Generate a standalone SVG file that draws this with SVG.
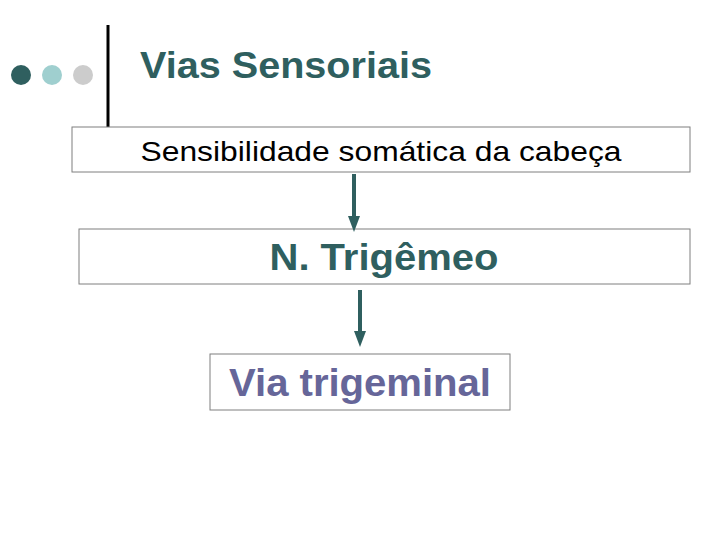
<svg xmlns="http://www.w3.org/2000/svg" width="720" height="540" viewBox="0 0 720 540">
<style>
.box{fill:#fff;stroke:#7f7f7f;stroke-width:1}
.t{font-family:"Liberation Sans",Arial,sans-serif;text-anchor:middle}
.c{stroke:#2f5f5f;stroke-width:4;fill:none}
</style>
<defs><marker id="ah" markerWidth="4" markerHeight="5" refX="1" refY="1.5" orient="auto" markerUnits="strokeWidth" viewBox="0 0 4 3"><path d="M0,0 L4,1.5 L0,3 Z" fill="#2f5f5f"/></marker></defs>
<rect width="720" height="540" fill="#fff"/>
<circle cx="21" cy="75" r="10" fill="#2f5f5f"/>
<circle cx="52" cy="75" r="10" fill="#9fcfcf"/>
<circle cx="83" cy="75" r="10" fill="#cccccc"/>
<line x1="108" y1="25" x2="108" y2="127" stroke="#000" stroke-width="3"/>
<text x="140" y="78" font-family="Liberation Sans,Arial,sans-serif" font-weight="bold" font-size="36" fill="#2f5f5f" textLength="292" lengthAdjust="spacingAndGlyphs">Vias Sensoriais</text>
<g id="n1"><rect class="box" x="72" y="127" width="618" height="45"/><text class="t" x="381" y="161" font-size="28" fill="#000" textLength="481" lengthAdjust="spacingAndGlyphs">Sensibilidade somática da cabeça</text></g>
<g id="n2"><rect class="box" x="79" y="229" width="611" height="55"/><text class="t" x="384" y="270" font-size="37" font-weight="bold" fill="#2f5f5f" textLength="229" lengthAdjust="spacingAndGlyphs">N. Trigêmeo</text></g>
<g id="n3"><rect class="box" x="210" y="354" width="300" height="56"/><text class="t" x="360" y="396" font-size="38" font-weight="bold" fill="#666699" textLength="262" lengthAdjust="spacingAndGlyphs">Via trigeminal</text></g>
<g id="connectors">
<line class="c" x1="354" y1="174" x2="354" y2="220" marker-end="url(#ah)"/>
<line class="c" x1="360" y1="290" x2="360" y2="335" marker-end="url(#ah)"/>
</g>
</svg>
